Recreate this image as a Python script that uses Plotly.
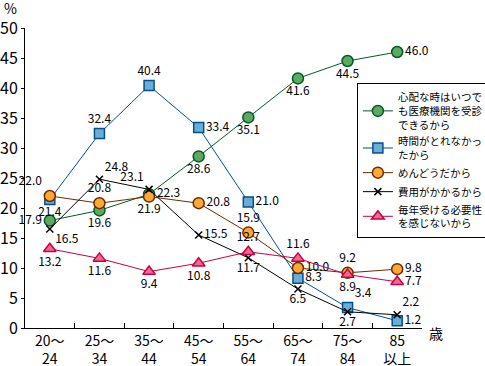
import plotly.graph_objects as go

categories = ["20～<br>24", "25～<br>34", "35～<br>44", "45～<br>54", "55～<br>64", "65～<br>74", "75～<br>84", "85<br>以上"]

names = [
    "心配な時はいつで<br>も医療機関を受診<br>できるから",
    "時間がとれなかっ<br>たから",
    "めんどうだから",
    "費用がかかるから",
    "毎年受ける必要性<br>を感じないから",
]
shinpai = [17.9, 19.6, 22.3, 28.6, 35.1, 41.6, 44.5, 46.0]
jikan = [21.4, 32.4, 40.4, 33.4, 21.0, 8.3, 3.4, 1.2]
mendou = [22.0, 20.8, 21.9, 20.8, 15.9, 10.0, 9.2, 9.8]
hiyou = [16.5, 24.8, 23.1, 15.5, 11.7, 6.5, 2.7, 2.2]
maitoshi = [13.2, 11.6, 9.4, 10.8, 12.7, 11.6, 8.9, 7.7]

series = [shinpai, jikan, mendou, hiyou, maitoshi]
fills = ["#5fa862", "#6aaed6", "#ffa833", "#000000", "#ee6b8e"]
lines = ["#005a28", "#00508a", "#6e2a00", "#000000", "#c8004a"]
symbols = ["circle", "square", "circle", "x-thin", "triangle-up"]
sizes = [11, 10, 11, 7, 11]
positions = [
    ["middle left", "bottom center", "middle right", "bottom center", "bottom center", "bottom center", "bottom center", "middle right"],
    ["bottom center", "top center", "top center", "middle right", "middle right", "middle right", "top right", "middle right"],
    ["top left", "top center", "bottom center", "middle right", "top center", "middle right", "top center", "middle right"],
    ["bottom right", "top right", "top left", "middle right", "bottom center", "bottom center", "bottom center", "top right"],
    ["bottom center", "bottom center", "bottom center", "bottom center", "top center", "top center", "bottom center", "middle right"],
]

fig = go.Figure()
for name, vals, fc, lc, sym, sz, pos in zip(names, series, fills, lines, symbols, sizes, positions):
    fig.add_trace(go.Scatter(
        x=categories, y=vals, name=name,
        mode="lines+markers+text",
        text=[f"{v:.1f}" for v in vals],
        textposition=pos,
        textfont=dict(size=12, color="#000000"),
        line=dict(color=lc, width=1),
        marker=dict(symbol=sym, size=sz, color=fc,
                    line=dict(color=lc, width=1.5)),
        cliponaxis=False,
    ))

fig.update_layout(
    width=485, height=366,
    margin=dict(l=25, r=63, t=28, b=38, autoexpand=False),
    paper_bgcolor="white", plot_bgcolor="white",
    font=dict(family="Noto Sans CJK JP", size=12, color="#000000"),
    showlegend=True,
    legend=dict(
        x=0.836, y=0.817, xanchor="left", yanchor="top",
        bordercolor="#000000", borderwidth=1, bgcolor="white",
        font=dict(size=10.5), tracegroupgap=5,
        itemwidth=30,
    ),
    xaxis=dict(
        type="category", range=[-0.5, 7.5], automargin=False,
        showline=True, linecolor="#000000", linewidth=1,
        ticks="inside", tickson="boundaries", ticklen=5, tickcolor="#000000",
        tickfont=dict(size=14), showgrid=False, zeroline=False,
    ),
    yaxis=dict(
        range=[0, 50], dtick=5, automargin=False,
        showline=True, linecolor="#000000", linewidth=1,
        ticks="outside", ticklen=3, tickcolor="#000000",
        tickfont=dict(size=16), showgrid=False, zeroline=False,
    ),
    annotations=[
        dict(text="%", xref="paper", yref="paper", x=0, y=1.0, xshift=-15, yshift=20,
             showarrow=False, font=dict(size=14), xanchor="center", yanchor="middle"),
        dict(text="歳", xref="paper", yref="paper", x=1.0, y=0, xshift=14, yshift=-5,
             showarrow=False, font=dict(size=14), xanchor="center", yanchor="middle"),
    ],
)

fig.write_html(
    "out.html",
    config={"displayModeBar": False},
    post_script="document.body.style.margin='0';document.body.style.overflow='hidden';",
)
